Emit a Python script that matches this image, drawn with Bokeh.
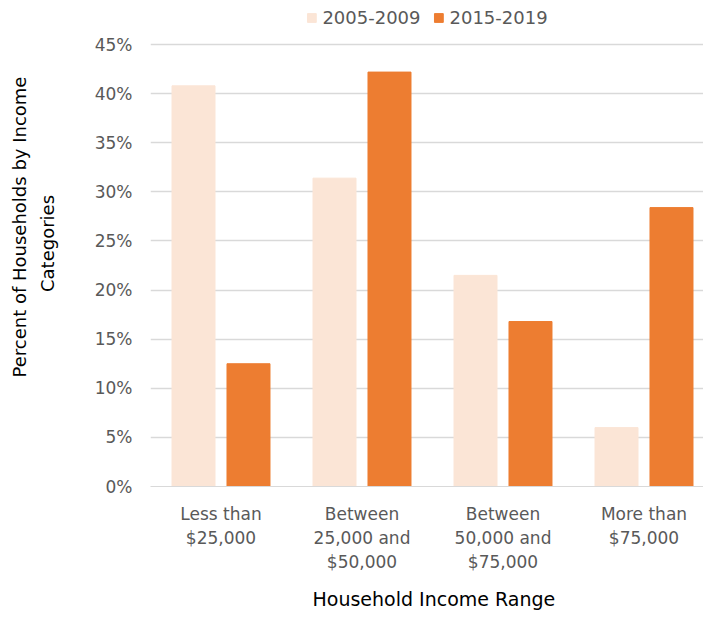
from bokeh.plotting import figure
from bokeh.models import (Range1d, FixedTicker, NumeralTickFormatter,
                          Legend, LegendItem, ColumnDataSource, Title)
from bokeh.embed import file_html
from bokeh.resources import INLINE

categories = ["Less than\n$25,000", "Between\n25,000 and\n$50,000",
              "Between\n50,000 and\n$75,000", "More than\n$75,000"]
series_names = ["2005-2009", "2015-2019"]
values_2005_2009 = [0.408, 0.314, 0.215, 0.060]
values_2015_2019 = [0.125, 0.422, 0.168, 0.284]
colors = ["#FBE5D6", "#ED7D31"]
y_ticks = [0.0, 0.05, 0.10, 0.15, 0.20, 0.25, 0.30, 0.35, 0.40, 0.45]
y_title_lines = ["Percent of Households by  Income", "Categories"]
x_title = "Household Income Range"

FONT = "DejaVu Sans"
centers = [i + 0.5 for i in range(len(categories))]
offset = 0.195
bar_w = 0.305

p = figure(width=703, height=627, output_backend="svg", toolbar_location=None,
           x_range=Range1d(0, 3.922), y_range=Range1d(0, 0.4949),
           min_border_left=150, min_border_right=0, min_border_bottom=141, min_border_top=0)
p.outline_line_color = None
p.background_fill_color = "white"
p.border_fill_color = "white"

src1 = ColumnDataSource(dict(x=[c - offset for c in centers], top=values_2005_2009))
src2 = ColumnDataSource(dict(x=[c + offset for c in centers], top=values_2015_2019))
r1 = p.vbar(x="x", top="top", width=bar_w, source=src1, fill_color=colors[0], line_color=colors[0])
r2 = p.vbar(x="x", top="top", width=bar_w, source=src2, fill_color=colors[1], line_color=colors[1])

# y axis
p.yaxis.ticker = FixedTicker(ticks=y_ticks)
p.yaxis.formatter = NumeralTickFormatter(format="0%")
p.yaxis.axis_line_color = None
p.yaxis.major_tick_line_color = None
p.yaxis.minor_tick_line_color = None
p.yaxis.major_label_text_font = FONT
p.yaxis.major_label_text_font_size = "17px"
p.yaxis.major_label_text_color = "#595959"
p.yaxis.major_label_standoff = 12
p.yaxis.axis_label = y_title_lines[1]
p.yaxis.axis_label_text_font = FONT
p.yaxis.axis_label_text_font_size = "18px"
p.yaxis.axis_label_text_font_style = "normal"
p.yaxis.axis_label_text_color = "black"
p.yaxis.axis_label_standoff = 34

p.add_layout(Title(text=y_title_lines[0], align="left", offset=109, standoff=8,
                   vertical_align="bottom",
                   text_font=FONT, text_font_size="18px", text_font_style="normal",
                   text_color="black"), "left")

# x axis
p.xaxis.ticker = FixedTicker(ticks=centers)
p.xaxis.major_label_overrides = {c: lab for c, lab in zip(centers, categories)}
p.xaxis.axis_line_color = "#d9d9d9"
p.xaxis.major_tick_line_color = None
p.xaxis.minor_tick_line_color = None
p.xaxis.major_label_text_font = FONT
p.xaxis.major_label_text_font_size = "17px"
p.xaxis.major_label_text_color = "#595959"
p.xaxis.major_label_standoff = 11

p.add_layout(Title(text=x_title, align="left", offset=162, standoff=22,
                   text_font=FONT, text_font_size="19px", text_font_style="normal",
                   text_color="black"), "below")

p.xgrid.grid_line_color = None
p.ygrid.grid_line_color = "#d9d9d9"
p.ygrid.grid_line_width = 1.5

legend = Legend(items=[LegendItem(label=series_names[0], renderers=[r1]),
                       LegendItem(label=series_names[1], renderers=[r2])],
                orientation="horizontal", location="top_center",
                label_text_font=FONT, label_text_font_size="18px", label_text_color="#595959",
                glyph_width=11, glyph_height=11, label_standoff=6, spacing=12,
                padding=4, margin=7, border_line_color=None, background_fill_alpha=0)
p.add_layout(legend)

open("out.html", "w").write(file_html(p, INLINE))
